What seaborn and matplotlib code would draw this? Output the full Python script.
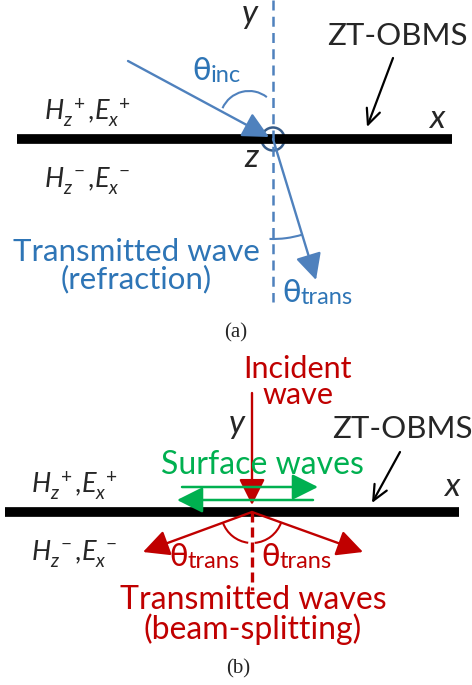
import matplotlib
matplotlib.use("Agg")
import matplotlib.pyplot as plt
from matplotlib.patches import Arc, Circle
import seaborn as sns

# colours taken from the figure
BLUE_LINE = "#4f81bd"
BLUE_TEXT = "#2e75b6"
NAVY = "#385d8a"
RED = "#c00000"
GREEN = "#00b050"

# geometry in image pixels (y grows downward)
# panel (a) - refraction
a_sheet_x = [17, 452]
a_sheet_y = 139
a_origin = (273, 139)
a_normal_y = [0, 302]
a_inc_start = (128, 61)
a_trans_end = (316, 280)
a_inc_arc = (249, 120, 58, -156, -52)      # cx, cy, diameter, theta1, theta2
a_trans_arc = (273, 139, 200, 73, 92)
a_ztobms_arrow = [(393, 58), (367, 127)]

# panel (b) - beam splitting
b_sheet_x = [5, 459]
b_sheet_y = 512
b_origin = (252, 512)
b_inc_top = 393
b_normal_bottom = 590
b_split_ends = [(143, 552), (363, 552)]
b_surface_right = [(182, 487), (318, 487)]
b_surface_left = [(313, 500), (177, 500)]
b_split_arcs = [(252, 512, 62, 97, 160), (252, 512, 62, 20, 85)]
b_ztobms_arrow = [(400, 452), (372, 503)]

# text labels
field_top = r"$H_z^{\ +}{,}E_x^{\ +}$"
field_bottom = r"$H_z^{\ -}{,}E_x^{\ -}$"
refraction_label = "Transmitted wave\n(refraction)"
incident_label = "Incident\nwave"
surface_label = "Surface waves"
split_label = "Transmitted waves\n(beam-splitting)"
sheet_label = "ZT-OBMS"

sns.set_theme(style="white")
plt.rcParams["font.family"] = ["Lato", "DejaVu Sans"]
plt.rcParams["mathtext.fontset"] = "custom"
plt.rcParams["mathtext.it"] = "Lato:italic"
plt.rcParams["mathtext.rm"] = "Lato"

fig = plt.figure(figsize=(4.72, 6.85), dpi=100)
ax = fig.add_axes([0, 0, 1, 1])
ax.set_xlim(0, 472)
ax.set_ylim(685, 0)
ax.axis("off")


def arrow(ax, start, end, color, lw=1.7, hl=16, hw=8, style="-|>"):
    ax.annotate("", xy=end, xytext=start,
                arrowprops=dict(arrowstyle=f"{style},head_length={hl/10},head_width={hw/10}",
                                mutation_scale=10, color=color, lw=lw,
                                shrinkA=0, shrinkB=0))


def theta(ax, x, y, sub, color, size=22, subsize=17):
    ax.text(x, y, "\u03b8", color=color, fontsize=size, ha="left", va="baseline",
            family=["DejaVu Sans"])
    ax.text(x + size * 0.86, y + 2, sub, color=color, fontsize=subsize, ha="left", va="baseline")


# ---------- panel (a) ----------
ax.plot(a_sheet_x, [a_sheet_y, a_sheet_y], color="black", lw=7, solid_capstyle="butt")
ax.plot([a_origin[0]] * 2, a_normal_y, color=BLUE_LINE, lw=1.8, ls=(0, (4, 2.5)))
ax.add_patch(Circle(a_origin, 11.5, fill=False, ec=NAVY, lw=1.8))
arrow(ax, a_inc_start, (a_origin[0] - 4, a_origin[1] - 2), BLUE_LINE)
arrow(ax, a_origin, a_trans_end, BLUE_LINE)
cx, cy, d, t1, t2 = a_inc_arc
ax.add_patch(Arc((cx, cy), d, d, theta1=t1, theta2=t2, color=BLUE_LINE, lw=1.5))
cx, cy, d, t1, t2 = a_trans_arc
ax.add_patch(Arc((cx, cy), d, d, theta1=t1, theta2=t2, color=BLUE_LINE, lw=1.5))
arrow(ax, a_ztobms_arrow[0], a_ztobms_arrow[1], "black", lw=1.6, hl=11, hw=5, style="->")

ax.text(250, 14, "y", style="italic", fontsize=24, ha="center", va="center")
ax.text(437, 119, "x", style="italic", fontsize=24, ha="center", va="center")
ax.text(251, 158, "z", style="italic", fontsize=24, ha="center", va="center")
ax.text(397, 36, sheet_label, fontsize=22.5, ha="center", va="center")
ax.text(44, 120, field_top, fontsize=19.5, ha="left", va="baseline")
ax.text(44, 187, field_bottom, fontsize=19.5, ha="left", va="baseline")
ax.text(136, 266, refraction_label, color=BLUE_TEXT, fontsize=22.5,
        ha="center", va="center", linespacing=0.95)
theta(ax, 192, 80, "inc", BLUE_TEXT)
theta(ax, 282, 302, "trans", BLUE_TEXT)
ax.text(236, 333, "(a)", family=["Liberation Serif"], fontsize=15, ha="center", va="center")

# ---------- panel (b) ----------
ax.plot(b_sheet_x, [b_sheet_y, b_sheet_y], color="black", lw=7, solid_capstyle="butt")
ax.plot([b_origin[0]] * 2, [b_origin[1], b_normal_bottom], color=RED, lw=2.4, ls=(0, (3, 1.5)))
arrow(ax, (b_origin[0], b_inc_top), (b_origin[0], b_origin[1] - 7), RED)
for end in b_split_ends:
    arrow(ax, b_origin, end, RED)
for cx, cy, d, t1, t2 in b_split_arcs:
    ax.add_patch(Arc((cx, cy), d, d, theta1=t1, theta2=t2, color=RED, lw=1.5))
arrow(ax, b_surface_right[0], b_surface_right[1], GREEN, lw=1.8)
arrow(ax, b_surface_left[0], b_surface_left[1], GREEN, lw=1.8)
arrow(ax, b_ztobms_arrow[0], b_ztobms_arrow[1], "black", lw=1.6, hl=11, hw=5, style="->")

ax.text(298, 382, incident_label, color=RED, fontsize=22, ha="center", va="center",
        linespacing=0.95)
ax.text(237, 424, "y", style="italic", fontsize=24, ha="center", va="center")
ax.text(452, 487, "x", style="italic", fontsize=24, ha="center", va="center")
ax.text(402, 429, sheet_label, fontsize=22.5, ha="center", va="center")
ax.text(262, 465, surface_label, color=GREEN, fontsize=23, ha="center", va="center")
ax.text(31, 493, field_top, fontsize=19.5, ha="left", va="baseline")
ax.text(31, 560, field_bottom, fontsize=19.5, ha="left", va="baseline")
theta(ax, 169, 566, "trans", RED)
theta(ax, 261, 566, "trans", RED)
ax.text(253, 615, split_label, color=RED, fontsize=23, ha="center", va="center",
        linespacing=0.95)
ax.text(238, 669, "(b)", family=["Liberation Serif"], fontsize=15, ha="center", va="center")

fig.savefig("out.png", dpi=100)
